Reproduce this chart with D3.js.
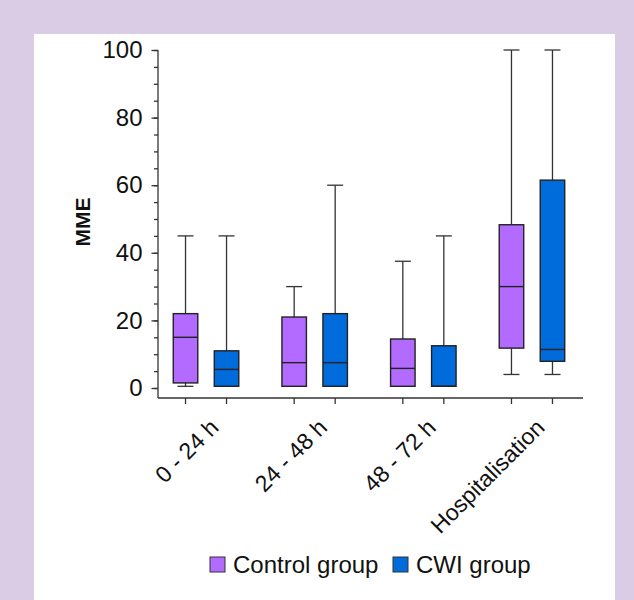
<!DOCTYPE html>
<html>
<head>
<meta charset="utf-8">
<script src="https://cdn.jsdelivr.net/npm/d3@7"></script>
<style>
  html, body { margin: 0; padding: 0; background: #d9cce4; }
  svg { display: block; font-family: "Liberation Sans", Arial, sans-serif; }
</style>
</head>
<body>
<div id="chart"></div>
<script>
// categories and groups
const categories = ["0 - 24 h", "24 - 48 h", "48 - 72 h", "Hospitalisation"];
const groups = ["Control group", "CWI group"];
// [min, q1, median, q3, max] per category
const controlStats = [
  [0.5, 1.5, 15, 22, 45],
  [0.5, 0.5, 7.5, 21, 30],
  [0.5, 0.5, 5.8, 14.5, 37.5],
  [4, 11.8, 30, 48.3, 100]
];
const cwiStats = [
  [0.5, 0.5, 5.5, 11, 45],
  [0.5, 0.5, 7.5, 22, 60],
  [0.5, 0.5, 0.5, 12.5, 45],
  [4, 7.9, 11.4, 61.5, 100]
];
const yTicks = [0, 20, 40, 60, 80, 100];
const colors = { "Control group": "#b36bff", "CWI group": "#006bdb" };

const width = 634, height = 600;

const svg = d3.select("#chart").append("svg")
  .attr("width", width)
  .attr("height", height);

// white panel
svg.append("rect")
  .attr("x", 34).attr("y", 34)
  .attr("width", 581).attr("height", height - 34)
  .attr("fill", "#fff");

const y = d3.scaleLinear().domain([0, 100]).range([388, 50]);
const x0 = d3.scaleBand().domain(categories).range([151.7, 586.3]);
const x1 = d3.scaleBand().domain(groups)
  .range([x0.bandwidth() / 2 - 41, x0.bandwidth() / 2 + 41]);

const axisX = 158, axisY = 398, axisEnd = 583;
const boxW = 24.5, capW = 16;

// build rows
const rows = [];
categories.forEach((c, i) => {
  [controlStats, cwiStats].forEach((s, j) => {
    const [min, q1, med, q3, max] = s[i];
    rows.push({ cat: c, group: groups[j], min, q1, med, q3, max });
  });
});
const cx = d => x0(d.cat) + x1(d.group) + x1.bandwidth() / 2;

// y axis, minor ticks
const gy = svg.append("g")
  .attr("transform", `translate(${axisX},0)`)
  .call(d3.axisLeft(y).tickValues(d3.range(0, 101, 5)).tickSize(4).tickFormat(""));
gy.select(".domain").remove();
gy.selectAll(".tick line").attr("stroke", "#333").attr("stroke-width", 1.3);

// y axis, major ticks
const gyMajor = svg.append("g")
  .attr("transform", `translate(${axisX},0)`)
  .call(d3.axisLeft(y).tickValues(yTicks).tickSize(6.5).tickPadding(9));
gyMajor.select(".domain").remove();
gyMajor.selectAll(".tick line").attr("stroke", "#333").attr("stroke-width", 1.3);
gyMajor.selectAll(".tick text")
  .attr("font-size", 24)
  .attr("font-family", "'Liberation Sans', Arial, sans-serif")
  .attr("fill", "#111");

svg.append("line")
  .attr("x1", axisX).attr("x2", axisX)
  .attr("y1", y(100)).attr("y2", axisY)
  .attr("stroke", "#333").attr("stroke-width", 1.3);

// x axis
svg.append("line")
  .attr("x1", axisX).attr("x2", axisEnd)
  .attr("y1", axisY).attr("y2", axisY)
  .attr("stroke", "#333").attr("stroke-width", 1.3);

svg.append("g").selectAll("line")
  .data(rows)
  .join("line")
  .attr("x1", cx).attr("x2", cx)
  .attr("y1", axisY).attr("y2", axisY + 6)
  .attr("stroke", "#333").attr("stroke-width", 1.3);

svg.append("g").selectAll("text")
  .data(categories)
  .join("text")
  .attr("transform", d => `translate(${x0(d) + x0.bandwidth() / 2 + 14},${axisY + 31}) rotate(-45)`)
  .attr("text-anchor", "end")
  .attr("font-size", 23)
  .attr("fill", "#111")
  .text(d => d);

// y label
svg.append("text")
  .attr("transform", `translate(90,222) rotate(-90)`)
  .attr("text-anchor", "middle")
  .attr("font-size", 21)
  .attr("font-weight", "bold")
  .attr("fill", "#111")
  .text("MME");

// boxes
const box = svg.append("g").selectAll("g")
  .data(rows)
  .join("g");

box.append("line")
  .attr("x1", cx).attr("x2", cx)
  .attr("y1", d => y(d.max)).attr("y2", d => y(d.q3))
  .attr("stroke", "#333").attr("stroke-width", 1.3);
box.append("line")
  .attr("x1", cx).attr("x2", cx)
  .attr("y1", d => y(d.q1)).attr("y2", d => y(d.min))
  .attr("stroke", "#333").attr("stroke-width", 1.3);
box.append("line")
  .attr("x1", d => cx(d) - capW / 2).attr("x2", d => cx(d) + capW / 2)
  .attr("y1", d => y(d.max)).attr("y2", d => y(d.max))
  .attr("stroke", "#333").attr("stroke-width", 1.3);
box.append("line")
  .attr("x1", d => cx(d) - capW / 2).attr("x2", d => cx(d) + capW / 2)
  .attr("y1", d => y(d.min)).attr("y2", d => y(d.min))
  .attr("stroke", "#333").attr("stroke-width", 1.3);
box.append("rect")
  .attr("x", d => cx(d) - boxW / 2)
  .attr("y", d => y(d.q3))
  .attr("width", boxW)
  .attr("height", d => y(d.q1) - y(d.q3))
  .attr("fill", d => colors[d.group])
  .attr("stroke", "#222").attr("stroke-width", 1.4);
box.append("line")
  .attr("x1", d => cx(d) - boxW / 2).attr("x2", d => cx(d) + boxW / 2)
  .attr("y1", d => y(d.med)).attr("y2", d => y(d.med))
  .attr("stroke", "#222").attr("stroke-width", 1.4);

// legend
const legendX = [210, 393];
const legend = svg.append("g").selectAll("g")
  .data(groups)
  .join("g")
  .attr("transform", (d, i) => `translate(${legendX[i]},557)`);
legend.append("rect")
  .attr("width", 15).attr("height", 15)
  .attr("fill", d => colors[d])
  .attr("stroke", "#333").attr("stroke-width", 1);
legend.append("text")
  .attr("x", 23).attr("y", 15.5)
  .attr("font-size", 24)
  .attr("fill", "#111")
  .text(d => d);
</script>
</body>
</html>
